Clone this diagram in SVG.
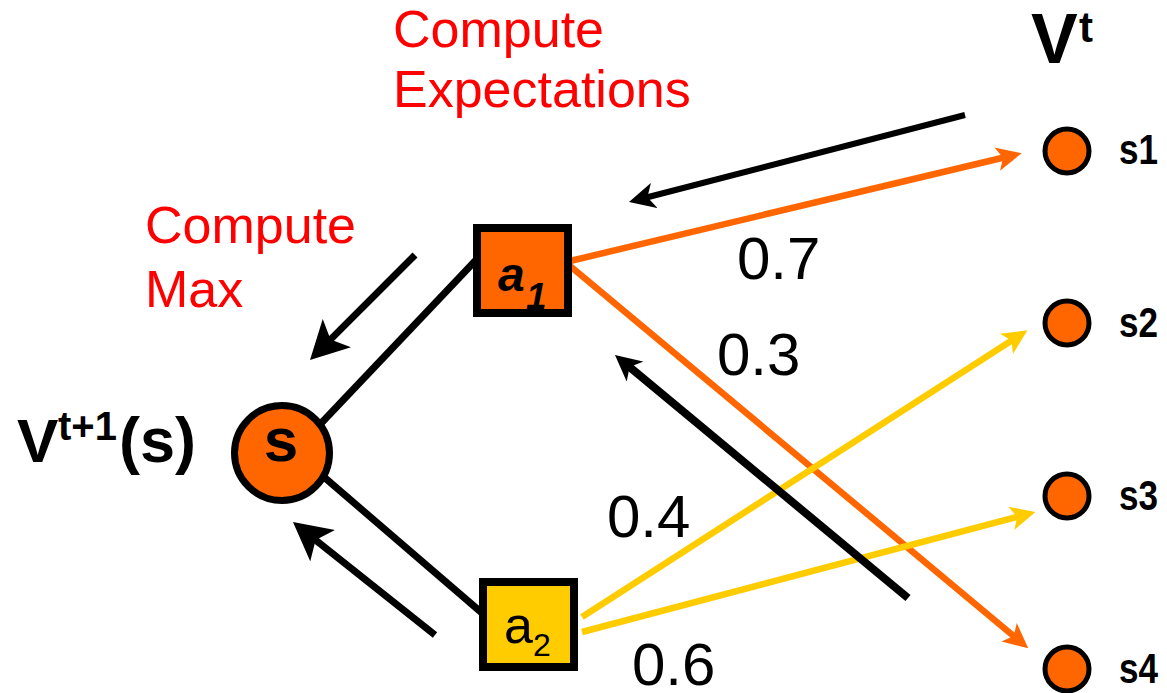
<svg xmlns="http://www.w3.org/2000/svg" width="1167" height="693" viewBox="0 0 1167 693">
<style>
.red{font-family:"Liberation Sans",Arial,sans-serif;font-size:52px;fill:#FF0000}
.num{font-family:"Liberation Sans",Arial,sans-serif;font-size:60px;fill:#000}
.bold{font-family:"Liberation Sans",Arial,sans-serif;font-weight:bold;fill:#000}
.st{font-family:"Liberation Sans",Arial,sans-serif;font-weight:bold;font-size:43px;fill:#000}
.state{fill:#FF6600;stroke:#000;stroke-width:5}
.box{stroke:#000;stroke-width:8}
.edge{stroke:#000;stroke-width:7;fill:none}
.orange{stroke:#FF6600;stroke-width:6.5;fill:none}
.yellow{stroke:#FFCC00;stroke-width:6.5;fill:none}
.blk{stroke:#000;fill:none}
</style>
<defs>
<marker id="hO" markerUnits="userSpaceOnUse" viewBox="-25 -12 25 24" refX="-16" refY="0" markerWidth="25" markerHeight="24" orient="auto"><path d="M0,0 L-25,-12 L-19,0 L-25,12 Z" fill="#FF6600"/></marker>
<marker id="hY" markerUnits="userSpaceOnUse" viewBox="-25 -12 25 24" refX="-16" refY="0" markerWidth="25" markerHeight="24" orient="auto"><path d="M0,0 L-25,-12 L-19,0 L-25,12 Z" fill="#FFCC00"/></marker>
<marker id="hB" markerUnits="userSpaceOnUse" viewBox="-26 -13 26 26" refX="-16" refY="0" markerWidth="26" markerHeight="26" orient="auto"><path d="M0,0 L-26,-13 L-19,0 L-26,13 Z" fill="#000"/></marker>
<marker id="hL" markerUnits="userSpaceOnUse" viewBox="-38 -20 38 40" refX="-26" refY="0" markerWidth="38" markerHeight="40" orient="auto"><path d="M0,0 L-38,-20 L-29,0 L-38,20 Z" fill="#000"/></marker>
</defs>

<g id="labels">
<text class="red" x="393" y="47">Compute</text>
<text class="red" x="393" y="107">Expectations</text>
<text class="red" x="145" y="243">Compute</text>
<text class="red" x="145" y="307">Max</text>
<text class="bold" x="1031" y="63" font-size="70">V</text>
<text class="bold" x="1079" y="42" font-size="42">t</text>
<text class="bold" x="17" y="462" font-size="62">V</text>
<text class="bold" x="58" y="440" font-size="40">t+1</text>
<text class="bold" x="119" y="462" font-size="63">(s)</text>
<text class="num" x="737" y="279">0.7</text>
<text class="num" x="717" y="375">0.3</text>
<text class="num" x="607" y="537">0.4</text>
<text class="num" x="632" y="685">0.6</text>
</g>

<g id="connectors">
<line class="edge" x1="310" y1="435" x2="476" y2="260"/>
<line class="edge" x1="310" y1="465" x2="482" y2="613"/>
<line class="orange" x1="570" y1="261" x2="1006" y2="157" marker-end="url(#hO)"/>
<line class="orange" x1="570" y1="266" x2="1016" y2="638" marker-end="url(#hO)"/>
<line class="yellow" x1="582" y1="617" x2="1014" y2="339" marker-end="url(#hY)"/>
<line class="yellow" x1="582" y1="632" x2="1020" y2="516" marker-end="url(#hY)"/>
<line class="blk" stroke-width="6" x1="965" y1="115" x2="644.5" y2="198" marker-end="url(#hB)"/>
<line class="blk" stroke-width="8" x1="908" y1="598" x2="627.3" y2="365.2" marker-end="url(#hB)"/>
<line class="blk" stroke-width="7" x1="415" y1="255" x2="328.4" y2="341.6" marker-end="url(#hL)"/>
<line class="blk" stroke-width="7" x1="435" y1="635" x2="313.3" y2="538.2" marker-end="url(#hL)"/>
</g>

<g id="node-s">
<circle cx="282" cy="453" r="47.5" fill="#FF6600" stroke="#000" stroke-width="7"/>
<text class="bold" x="281" y="461" font-size="62" text-anchor="middle">s</text>
</g>

<g id="node-a1">
<rect class="box" x="477" y="228" width="91" height="85" fill="#FF6600"/>
<text class="bold" x="498" y="291" font-size="48" font-style="italic">a</text>
<text class="bold" x="526" y="309" font-size="37" font-style="italic">1</text>
</g>

<g id="node-a2">
<rect class="box" x="483" y="582" width="91" height="85" fill="#FFCC00"/>
<text x="504" y="643" font-family="Liberation Sans, Arial, sans-serif" font-size="52" fill="#000">a</text>
<text x="533" y="656" font-family="Liberation Sans, Arial, sans-serif" font-size="32" fill="#000">2</text>
</g>

<g id="node-s1"><circle class="state" cx="1067" cy="151" r="22"/><text class="st" x="1119" y="164" textLength="39" lengthAdjust="spacingAndGlyphs">s1</text></g>
<g id="node-s2"><circle class="state" cx="1067" cy="323" r="22"/><text class="st" x="1119" y="337" textLength="39" lengthAdjust="spacingAndGlyphs">s2</text></g>
<g id="node-s3"><circle class="state" cx="1067" cy="496" r="22"/><text class="st" x="1119" y="510" textLength="39" lengthAdjust="spacingAndGlyphs">s3</text></g>
<g id="node-s4"><circle class="state" cx="1067" cy="669" r="22"/><text class="st" x="1119" y="683" textLength="39" lengthAdjust="spacingAndGlyphs">s4</text></g>
</svg>
